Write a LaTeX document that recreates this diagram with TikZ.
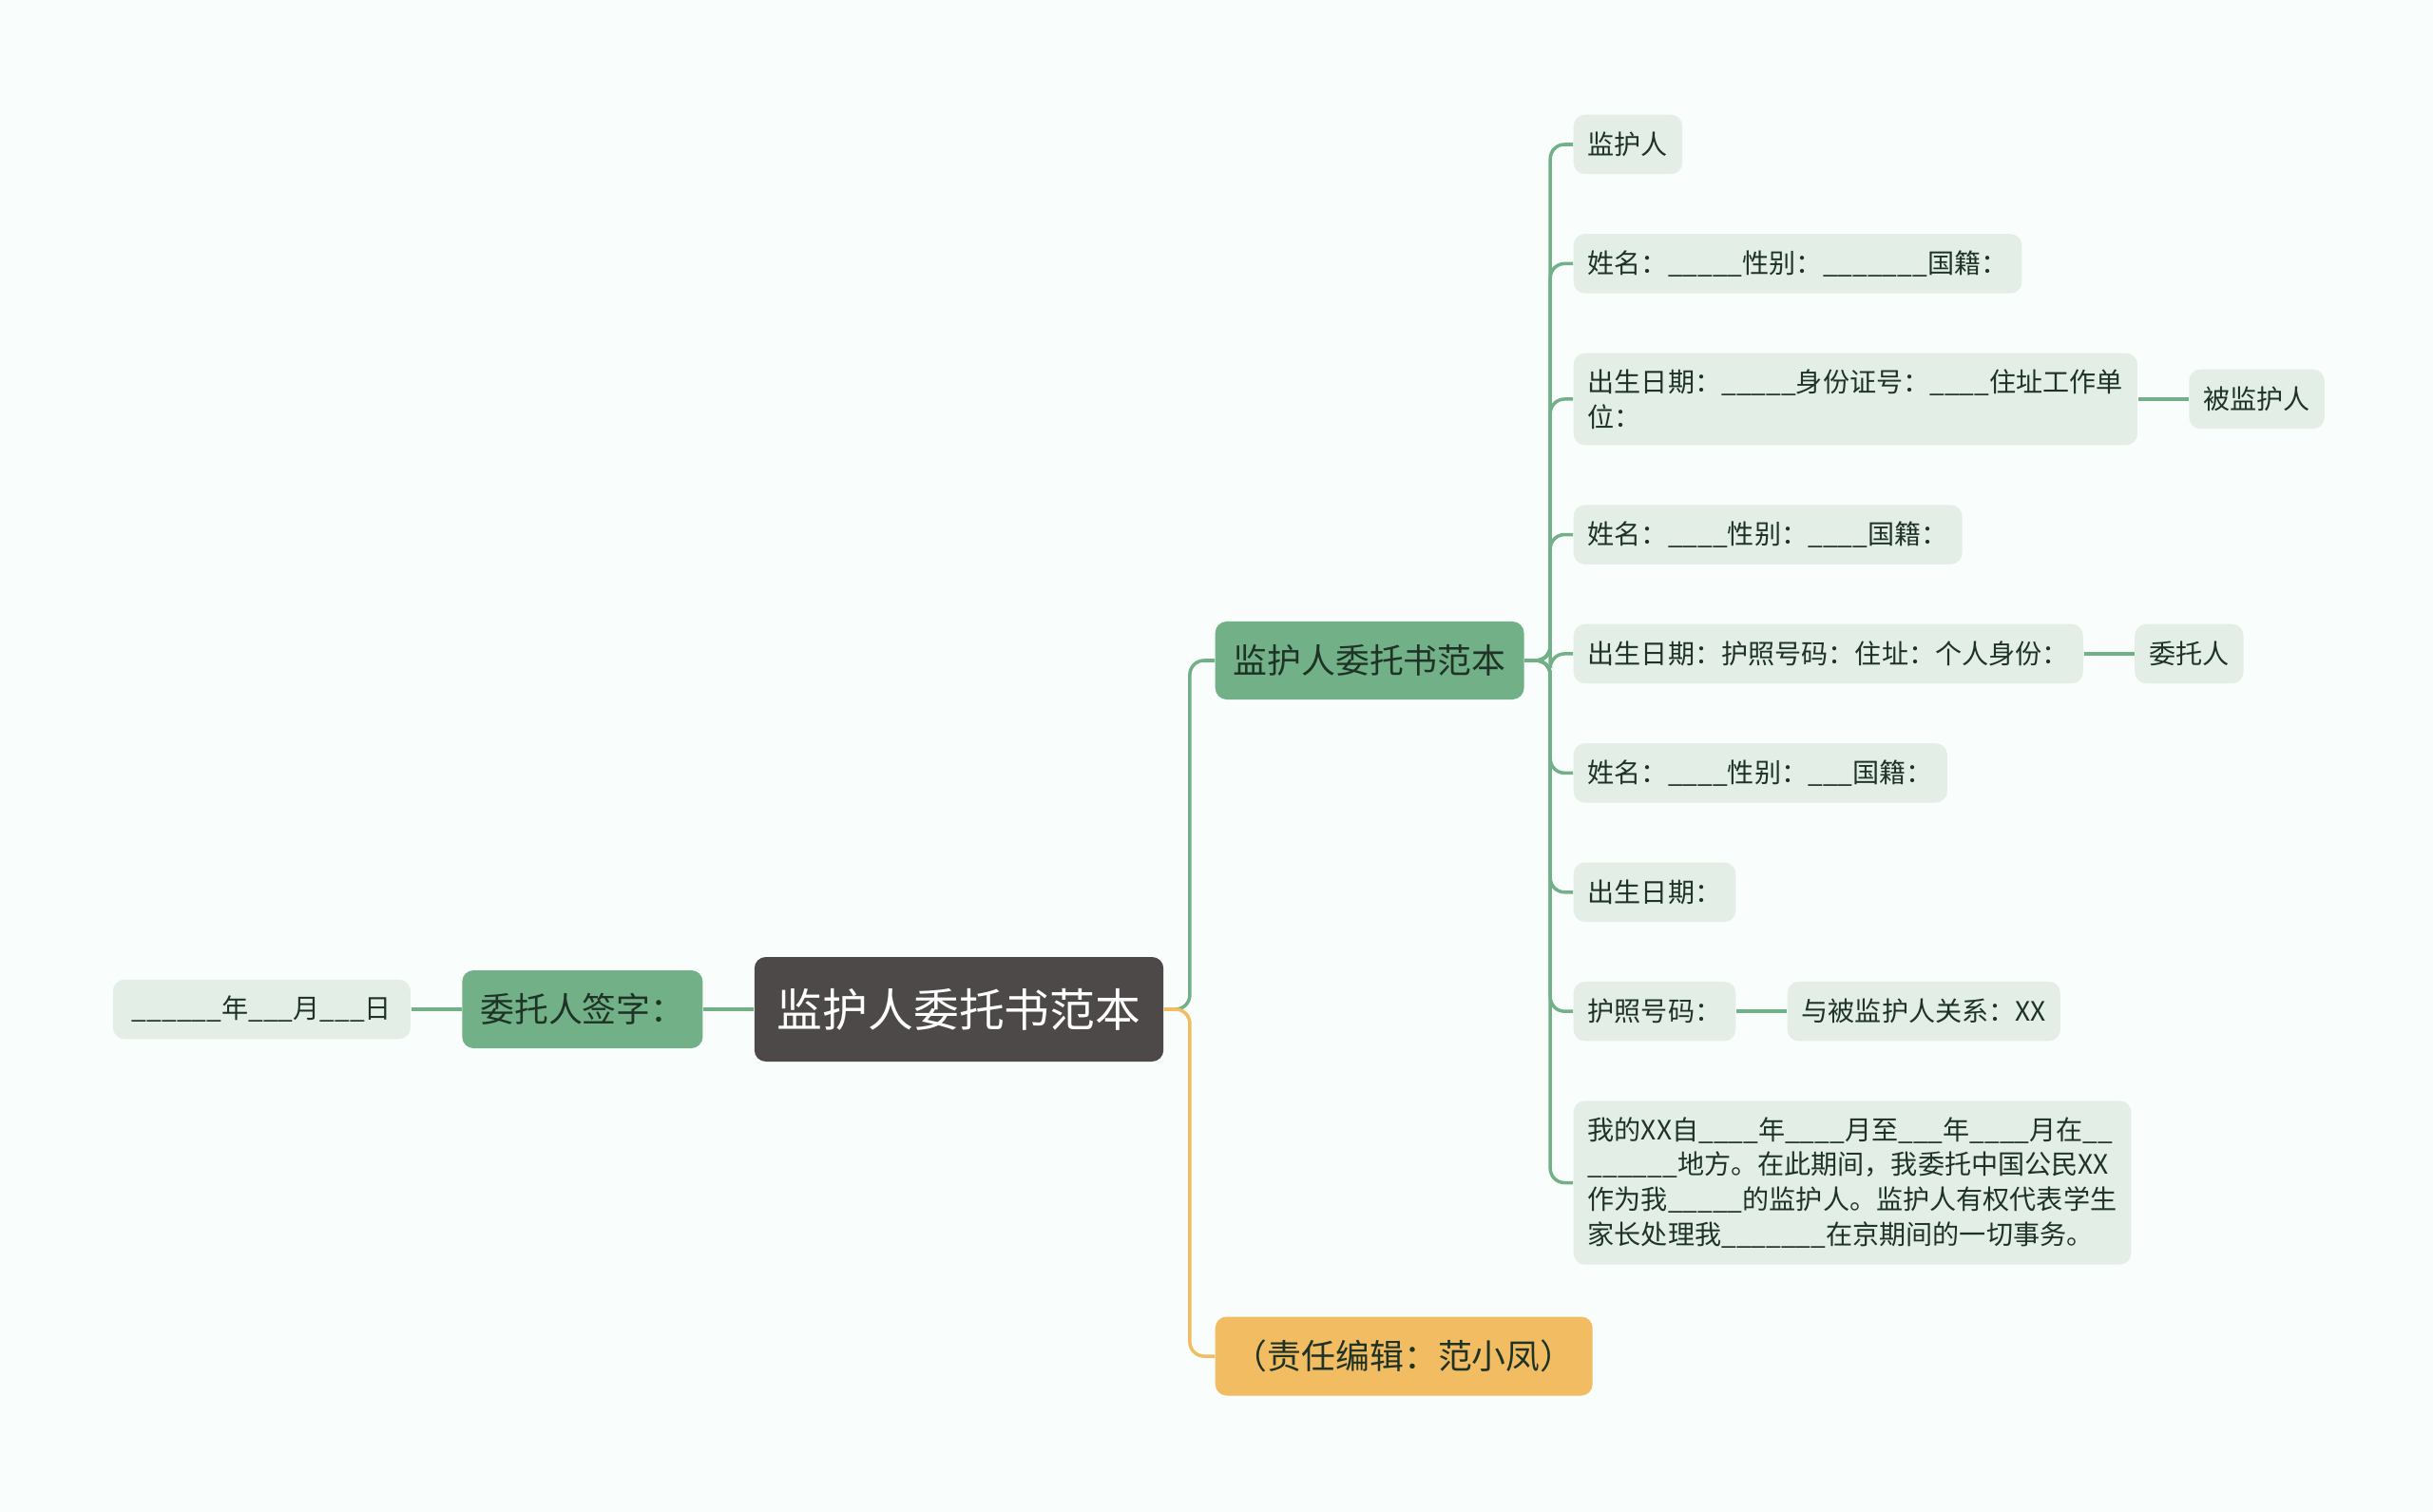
\documentclass[tikz,border=0pt]{standalone}
\usepackage{fontspec}
\setmainfont{Noto Sans CJK SC}
\usepackage{tikz}
\usetikzlibrary{positioning}
\usetikzlibrary{calc}

\definecolor{bgcol}{HTML}{F9FDFC}
\definecolor{rootcol}{HTML}{4D4949}
\definecolor{greencol}{HTML}{72B088}
\definecolor{leafcol}{HTML}{E3EEE6}
\definecolor{textcol}{HTML}{1E3326}
\definecolor{orangecol}{HTML}{F2BC62}

\tikzset{
    rootnode/.style={fill=rootcol, text=white, rounded corners=0.12cm, minimum height=1.10cm, inner xsep=0.24cm, font=\fontsize{13.6pt}{16pt}\selectfont},
    subnode/.style={fill=greencol, text=textcol, rounded corners=0.12cm, minimum height=0.82cm, inner xsep=0.19cm, font=\fontsize{10.2pt}{12pt}\selectfont},
    editnode/.style={fill=orangecol, text=textcol, rounded corners=0.12cm, minimum height=0.83cm, minimum width=3.97cm, font=\fontsize{10.2pt}{12pt}\selectfont},
    leaf/.style={fill=leafcol, text=textcol, rounded corners=0.12cm, minimum height=0.625cm, inner xsep=0.15cm, inner ysep=0.17cm, align=left, font=\fontsize{8pt}{10.5pt}\selectfont},
    gline/.style={draw=greencol, line width=1pt, rounded corners=0.15cm},
    oline/.style={draw=orangecol, line width=1pt, rounded corners=0.15cm},
}

\begin{document}
\begin{tikzpicture}
    \fill[bgcol] (0,0) rectangle (25.6,-15.91);

    % centre and left side
    \node[rootnode] (root) at (10.09,-10.62) {监护人委托书范本};
    \node[subnode, left=0.53cm of root] (sign) {委托人签字：};
    \node[leaf, left=0.53cm of sign, minimum width=3.13cm] (date) {\_\_\_\_\_\_年\_\_\_月\_\_\_日};

    % right side
    \node[subnode, anchor=west] (guard) at (12.78,-6.95) {监护人委托书范本};
    \node[editnode, anchor=west] (editor) at (12.78,-14.27) {（责任编辑：范小凤）};

    \node[leaf, anchor=west] (l1) at (16.55,-1.52) {监护人};
    \node[leaf, below right=0.615cm and 0cm of l1.south west] (l2) {姓名：\_\_\_\_\_性别：\_\_\_\_\_\_\_国籍：};
    \node[leaf, below right=0.615cm and 0cm of l2.south west] (l3) {出生日期：\_\_\_\_\_身份证号：\_\_\_\_住址工作单\\位：};
    \node[leaf, below right=0.615cm and 0cm of l3.south west] (l4) {姓名：\_\_\_\_性别：\_\_\_\_国籍：};
    \node[leaf, below right=0.615cm and 0cm of l4.south west] (l5) {出生日期：护照号码：住址：个人身份：};
    \node[leaf, below right=0.615cm and 0cm of l5.south west] (l6) {姓名：\_\_\_\_性别：\_\_\_国籍：};
    \node[leaf, below right=0.615cm and 0cm of l6.south west] (l7) {出生日期：};
    \node[leaf, below right=0.615cm and 0cm of l7.south west] (l8) {护照号码：};
    \node[leaf, below right=0.615cm and 0cm of l8.south west] (l9) {我的XX自\_\_\_\_年\_\_\_\_月至\_\_\_年\_\_\_\_月在\_\_\\\_\_\_\_\_\_地方。在此期间，我委托中国公民XX\\作为我\_\_\_\_\_的监护人。监护人有权代表学生\\家长处理我\_\_\_\_\_\_\_在京期间的一切事务。};

    \node[leaf, right=0.53cm of l3] (ward) {被监护人};
    \node[leaf, right=0.53cm of l5] (client) {委托人};
    \node[leaf, right=0.53cm of l8] (relation) {与被监护人关系：XX};

    % connectors
    \draw[gline] (root.west) -- (sign.east);
    \draw[gline] (sign.west) -- (date.east);
    \draw[gline] (root.east) -- ++(0.27,0) |- (guard.west);
    \draw[oline] (root.east) -- ++(0.27,0) |- (editor.west);
    \foreach \n in {l1,l2,l3,l4,l5,l6,l7,l8,l9}
        \draw[gline] (guard.east) -- ++(0.27,0) |- (\n.west);
    \draw[gline] (l3.east) -- (ward.west);
    \draw[gline] (l5.east) -- (client.west);
    \draw[gline] (l8.east) -- (relation.west);
\end{tikzpicture}
\end{document}
